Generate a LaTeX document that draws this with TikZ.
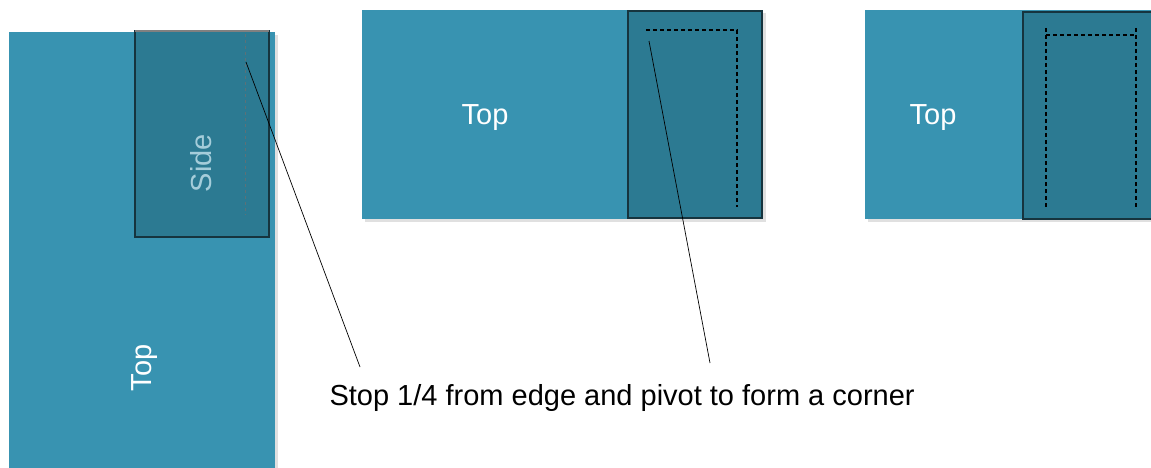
\documentclass[tikz,border=0pt]{standalone}
\usepackage{fontspec}
\setmainfont{Liberation Sans}
\usepackage{xcolor}
\usetikzlibrary{calc}

\definecolor{feltTop}{RGB}{56,147,177}
\definecolor{feltSide}{RGB}{44,122,146}
\definecolor{feltEdge}{RGB}{22,52,62}
\definecolor{sideText}{RGB}{165,205,218}

\tikzset{
	sheet/.style = {fill = feltTop},
	flap/.style = {fill = feltSide, draw = feltEdge, line width = 2.2pt},
	fold/.style = {draw = black, line width = 2pt, dash pattern = on 4pt off 3pt},
	softfold/.style = {draw = feltEdge!70, line width = 0.9pt, dash pattern = on 3pt off 3pt},
	label/.style = {text = white, font = \fontsize{29}{34}\selectfont},
	note/.style = {text = black, font = \fontsize{29}{34}\selectfont, anchor = west},
	leader/.style = {draw = black, line width = 0.7pt}
}

\begin{document}
\begin{tikzpicture}[x = 1pt, y = -1pt]
			\useasboundingbox (0,0) rectangle (1151,468);
			\clip (0,0) rectangle (1151,468);

			% first step: side laid on top
			\begin{scope}
				\fill [black!12] (12,35) rectangle (278,468);
				\fill [sheet] (9,32) rectangle (275,468);
				\draw [flap] (135,31) rectangle (269,237);
				\draw [gray, line width = 2.2pt] (135,31) -- (269,31);
				\draw [softfold] (245,34) -- (245,215);
				\coordinate (pivotA) at (246,62);
				\node [label, rotate = 90] (topA) at (145,368) {Top};
				\node [label, text = sideText, rotate = 90] (sideA) at (201,163) {Side};
			\end{scope}

			% second step
			\begin{scope}
				\fill [black!12] (365,13) rectangle (766,222);
				\fill [sheet] (362,10) rectangle (763,219);
				\draw [flap] (628,11) rectangle (762,218);
				\draw [fold] (646,30) -- (737,30) -- (737,207);
				\coordinate (pivotB) at (649,41);
				\node [label] (topB) at (485,118) {Top};
			\end{scope}

			% third step
			\begin{scope}
				\fill [black!12] (868,13) rectangle (1154,222);
				\fill [sheet] (865,10) rectangle (1160,219);
				\draw [flap] (1023,12) rectangle (1170,219);
				\draw [fold] (1046,28) -- (1046,207);
				\draw [fold] (1136,28) -- (1136,207);
				\draw [fold] (1046,35) -- (1136,35);
				\node [label] (topC) at (933,118) {Top};
			\end{scope}

			\node [note] (stopNote) at (326,398) {Stop 1/4 from edge and pivot to form a corner};
			\coordinate (noteA) at (360,367);
			\coordinate (noteB) at (710,363);

			\begin{scope}[leader]
				\draw (pivotA) -- (noteA);
				\draw (pivotB) -- (noteB);
			\end{scope}
		\end{tikzpicture}
\end{document}
